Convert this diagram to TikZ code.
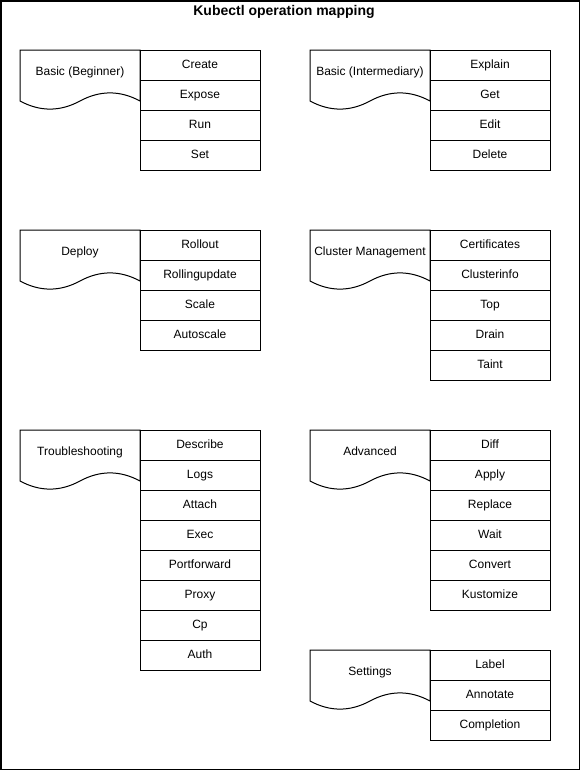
\documentclass[tikz,border=0pt]{standalone}
\usepackage{fontspec}
\setmainfont{Liberation Sans}
\usetikzlibrary{positioning}

% document shape (draw.io style), top left corner as argument
\newcommand{\docshape}[1]{%
	\draw[shift={#1}] (0,0) -- (120,0) -- (120,51)
		.. controls (100,40.2) and (80,40.2) .. (60,51)
		.. controls (40,61.8) and (20,61.8) .. (0,51) -- cycle;}

\begin{document}
\begin{tikzpicture}[x=1pt, y=-1pt, line width=1pt,
			every node/.style={font=\fontsize{12}{14}\selectfont, text height=8.6pt, text depth=2.6pt},
			item/.style={draw, minimum width=120pt, minimum height=30pt, inner sep=0pt},
			doclabel/.style={inner sep=0pt}]
			
			\useasboundingbox (0,0) rectangle (581,771);
			\draw[line width=1.5pt] (0.75,0.75) rectangle (579.5,769.5);
			
			% Titolo
			\node[font=\fontsize{14}{16}\selectfont\bfseries] (title) at (284,12.5) {Kubectl operation mapping};
			
			% --- Colonna sinistra ---
			% Basic (Beginner)
			\docshape{(20,50)}
			\node[doclabel] (beginner) at (80,72) {Basic (Beginner)};
			\node[item] (create) at (200,65) {Create};
			\node[item] (expose) at (200,95) {Expose};
			\node[item] (run) at (200,125) {Run};
			\node[item] (set) at (200,155) {Set};
			
			% Deploy
			\docshape{(20,230)}
			\node[doclabel] (deploy) at (80,252) {Deploy};
			\node[item] (rollout) at (200,245) {Rollout};
			\node[item] (rollingupdate) at (200,275) {Rollingupdate};
			\node[item] (scale) at (200,305) {Scale};
			\node[item] (autoscale) at (200,335) {Autoscale};
			
			% Troubleshooting
			\docshape{(20,430)}
			\node[doclabel] (troubleshooting) at (80,452) {Troubleshooting};
			\node[item] (describe) at (200,445) {Describe};
			\node[item] (logs) at (200,475) {Logs};
			\node[item] (attach) at (200,505) {Attach};
			\node[item] (exec) at (200,535) {Exec};
			\node[item] (portforward) at (200,565) {Portforward};
			\node[item] (proxy) at (200,595) {Proxy};
			\node[item] (cp) at (200,625) {Cp};
			\node[item] (auth) at (200,655) {Auth};
			
			% --- Colonna destra ---
			% Basic (Intermediary)
			\docshape{(310,50)}
			\node[doclabel] (intermediary) at (370,72) {Basic (Intermediary)};
			\node[item] (explain) at (490,65) {Explain};
			\node[item] (get) at (490,95) {Get};
			\node[item] (edit) at (490,125) {Edit};
			\node[item] (delete) at (490,155) {Delete};
			
			% Cluster Management
			\docshape{(310,230)}
			\node[doclabel] (cluster) at (370,252) {Cluster Management};
			\node[item] (certificates) at (490,245) {Certificates};
			\node[item] (clusterinfo) at (490,275) {Clusterinfo};
			\node[item] (top) at (490,305) {Top};
			\node[item] (drain) at (490,335) {Drain};
			\node[item] (taint) at (490,365) {Taint};
			
			% Advanced
			\docshape{(310,430)}
			\node[doclabel] (advanced) at (370,452) {Advanced};
			\node[item] (diff) at (490,445) {Diff};
			\node[item] (apply) at (490,475) {Apply};
			\node[item] (replace) at (490,505) {Replace};
			\node[item] (wait) at (490,535) {Wait};
			\node[item] (convert) at (490,565) {Convert};
			\node[item] (kustomize) at (490,595) {Kustomize};
			
			% Settings
			\docshape{(310,650)}
			\node[doclabel] (settings) at (370,672) {Settings};
			\node[item] (label) at (490,665) {Label};
			\node[item] (annotate) at (490,695) {Annotate};
			\node[item] (completion) at (490,725) {Completion};
		\end{tikzpicture}
\end{document}
